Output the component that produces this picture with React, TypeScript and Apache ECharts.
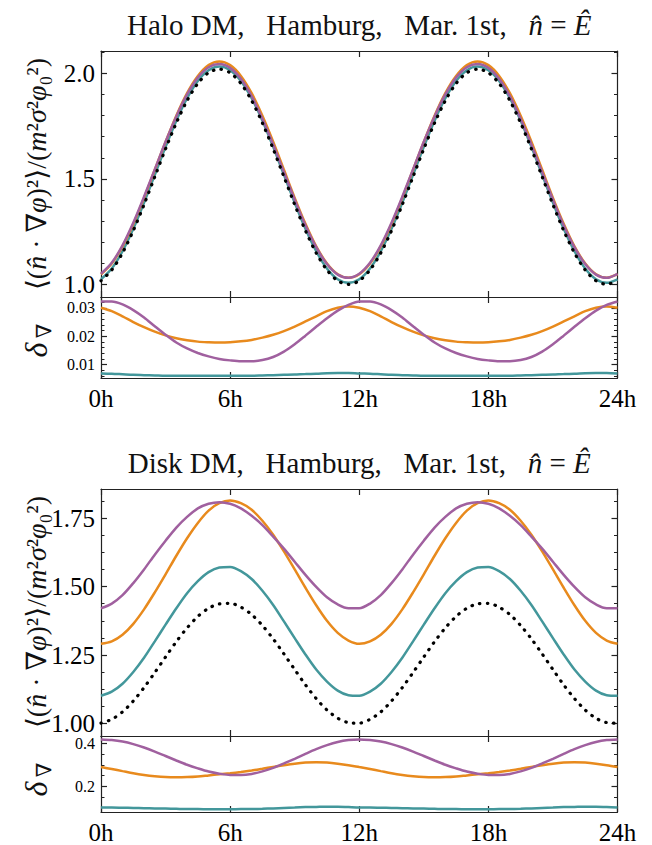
import React, { useEffect, useRef } from 'react';
import * as echarts from 'echarts';

// ---------- data ----------
const hours = [0, 0.5, 1, 1.5, 2, 2.5, 3, 3.5, 4, 4.5, 5, 5.5, 6, 6.5, 7, 7.5, 8, 8.5, 9, 9.5, 10, 10.5, 11, 11.5, 12,
  12.5, 13, 13.5, 14, 14.5, 15, 15.5, 16, 16.5, 17, 17.5, 18, 18.5, 19, 19.5, 20, 20.5, 21, 21.5, 22, 22.5, 23, 23.5, 24];

const haloBlack = [1.017, 1.068, 1.149, 1.255, 1.378, 1.510, 1.642, 1.765, 1.871, 1.952, 2.003, 2.020, 2.003, 1.952, 1.871, 1.765, 1.642, 1.510, 1.378, 1.255, 1.149, 1.068, 1.017, 1.000, 1.017,
  1.068, 1.149, 1.255, 1.378, 1.510, 1.642, 1.765, 1.871, 1.952, 2.003, 2.020, 2.003, 1.952, 1.871, 1.765, 1.642, 1.510, 1.378, 1.255, 1.149, 1.068, 1.017, 1.000, 1.017];
const haloTeal = [1.024, 1.075, 1.157, 1.263, 1.387, 1.519, 1.652, 1.776, 1.882, 1.964, 2.015, 2.032, 2.015, 1.964, 1.882, 1.776, 1.652, 1.519, 1.387, 1.263, 1.157, 1.075, 1.024, 1.007, 1.024,
  1.075, 1.157, 1.263, 1.387, 1.519, 1.652, 1.776, 1.882, 1.964, 2.015, 2.032, 2.015, 1.964, 1.882, 1.776, 1.652, 1.519, 1.387, 1.263, 1.157, 1.075, 1.024, 1.007, 1.024];
const haloOrange = [1.048, 1.099, 1.180, 1.286, 1.410, 1.543, 1.675, 1.799, 1.906, 1.987, 2.039, 2.056, 2.039, 1.988, 1.906, 1.799, 1.676, 1.543, 1.410, 1.287, 1.180, 1.099, 1.048, 1.031, 1.048,
  1.099, 1.180, 1.286, 1.410, 1.543, 1.675, 1.799, 1.906, 1.987, 2.039, 2.056, 2.039, 1.988, 1.906, 1.799, 1.676, 1.543, 1.410, 1.287, 1.180, 1.099, 1.048, 1.031, 1.048];
const haloPurple = [1.050, 1.102, 1.185, 1.292, 1.415, 1.545, 1.676, 1.796, 1.900, 1.980, 2.029, 2.044, 2.026, 1.974, 1.892, 1.785, 1.663, 1.532, 1.402, 1.280, 1.176, 1.096, 1.046, 1.031, 1.050,
  1.102, 1.185, 1.292, 1.415, 1.545, 1.676, 1.796, 1.900, 1.980, 2.029, 2.044, 2.026, 1.974, 1.892, 1.785, 1.663, 1.532, 1.402, 1.280, 1.176, 1.096, 1.046, 1.031, 1.050];

const haloDeltaTeal = [0.0069, 0.0068, 0.0066, 0.0064, 0.0063, 0.0062, 0.0061, 0.0061, 0.0061, 0.0061, 0.0061, 0.0061, 0.0061, 0.0061, 0.0061, 0.0062, 0.0063, 0.0064, 0.0065, 0.0067, 0.0068, 0.0070, 0.0071, 0.0071, 0.0069,
  0.0068, 0.0066, 0.0064, 0.0063, 0.0062, 0.0061, 0.0061, 0.0061, 0.0061, 0.0061, 0.0061, 0.0061, 0.0061, 0.0061, 0.0062, 0.0063, 0.0064, 0.0065, 0.0067, 0.0068, 0.0070, 0.0071, 0.0071, 0.0069];
const haloDeltaOrange = [0.0300, 0.0288, 0.0270, 0.0250, 0.0232, 0.0216, 0.0203, 0.0193, 0.0186, 0.0181, 0.0179, 0.0178, 0.0179, 0.0182, 0.0187, 0.0195, 0.0205, 0.0218, 0.0234, 0.0252, 0.0270, 0.0288, 0.0300, 0.0305, 0.0300,
  0.0288, 0.0270, 0.0250, 0.0232, 0.0216, 0.0203, 0.0193, 0.0186, 0.0181, 0.0179, 0.0178, 0.0179, 0.0182, 0.0187, 0.0195, 0.0205, 0.0218, 0.0234, 0.0252, 0.0270, 0.0288, 0.0300, 0.0305, 0.0300];
const haloDeltaPurple = [0.0322, 0.0322, 0.0312, 0.0292, 0.0266, 0.0235, 0.0205, 0.0178, 0.0157, 0.0141, 0.0129, 0.0120, 0.0115, 0.0112, 0.0112, 0.0116, 0.0127, 0.0146, 0.0172, 0.0202, 0.0233, 0.0263, 0.0290, 0.0310, 0.0322,
  0.0322, 0.0312, 0.0292, 0.0266, 0.0235, 0.0205, 0.0178, 0.0157, 0.0141, 0.0129, 0.0120, 0.0115, 0.0112, 0.0112, 0.0116, 0.0127, 0.0146, 0.0172, 0.0202, 0.0233, 0.0263, 0.0290, 0.0310, 0.0322];

const diskBlack = [1.001, 1.015, 1.042, 1.082, 1.131, 1.186, 1.243, 1.299, 1.349, 1.391, 1.421, 1.437, 1.439, 1.425, 1.398, 1.358, 1.309, 1.254, 1.197, 1.141, 1.091, 1.049, 1.019, 1.003, 1.001,
  1.015, 1.042, 1.082, 1.131, 1.186, 1.243, 1.299, 1.349, 1.391, 1.421, 1.437, 1.439, 1.425, 1.398, 1.358, 1.309, 1.254, 1.197, 1.141, 1.091, 1.049, 1.019, 1.003, 1.001];
const diskTeal = [1.101, 1.116, 1.145, 1.188, 1.240, 1.300, 1.361, 1.421, 1.476, 1.520, 1.553, 1.570, 1.572, 1.557, 1.528, 1.485, 1.433, 1.373, 1.312, 1.252, 1.197, 1.153, 1.120, 1.103, 1.101,
  1.116, 1.145, 1.188, 1.240, 1.300, 1.361, 1.421, 1.476, 1.520, 1.553, 1.570, 1.572, 1.557, 1.528, 1.485, 1.433, 1.373, 1.312, 1.252, 1.197, 1.153, 1.120, 1.103, 1.101];
const diskOrange = [1.291, 1.300, 1.324, 1.364, 1.417, 1.479, 1.545, 1.613, 1.677, 1.733, 1.778, 1.805, 1.815, 1.805, 1.781, 1.741, 1.690, 1.629, 1.563, 1.496, 1.432, 1.375, 1.331, 1.303, 1.291,
  1.300, 1.324, 1.364, 1.417, 1.479, 1.545, 1.613, 1.677, 1.733, 1.778, 1.805, 1.815, 1.805, 1.781, 1.741, 1.690, 1.629, 1.563, 1.496, 1.432, 1.375, 1.331, 1.303, 1.291];
const diskPurple = [1.421, 1.438, 1.469, 1.513, 1.563, 1.617, 1.668, 1.716, 1.755, 1.786, 1.803, 1.809, 1.803, 1.786, 1.759, 1.725, 1.683, 1.639, 1.591, 1.543, 1.499, 1.461, 1.435, 1.421, 1.421,
  1.438, 1.469, 1.513, 1.563, 1.617, 1.668, 1.716, 1.755, 1.786, 1.803, 1.809, 1.803, 1.786, 1.759, 1.725, 1.683, 1.639, 1.591, 1.543, 1.499, 1.461, 1.435, 1.421, 1.421];

const diskDeltaTeal = [0.100, 0.100, 0.099, 0.098, 0.097, 0.096, 0.095, 0.094, 0.093, 0.093, 0.092, 0.092, 0.092, 0.093, 0.093, 0.094, 0.096, 0.098, 0.100, 0.102, 0.103, 0.104, 0.104, 0.102, 0.100,
  0.100, 0.099, 0.098, 0.097, 0.096, 0.095, 0.094, 0.093, 0.093, 0.092, 0.092, 0.092, 0.093, 0.093, 0.094, 0.096, 0.098, 0.100, 0.102, 0.103, 0.104, 0.104, 0.102, 0.100];
const diskDeltaOrange = [0.290, 0.281, 0.271, 0.261, 0.253, 0.247, 0.243, 0.242, 0.243, 0.246, 0.251, 0.256, 0.261, 0.267, 0.274, 0.282, 0.291, 0.299, 0.306, 0.311, 0.313, 0.311, 0.306, 0.299, 0.290,
  0.281, 0.271, 0.261, 0.253, 0.247, 0.243, 0.242, 0.243, 0.246, 0.251, 0.256, 0.261, 0.267, 0.274, 0.282, 0.291, 0.299, 0.306, 0.311, 0.313, 0.311, 0.306, 0.299, 0.290];
const diskDeltaPurple = [0.420, 0.417, 0.410, 0.398, 0.382, 0.363, 0.342, 0.321, 0.301, 0.284, 0.269, 0.259, 0.253, 0.253, 0.258, 0.270, 0.286, 0.307, 0.329, 0.352, 0.374, 0.393, 0.408, 0.417, 0.420,
  0.417, 0.410, 0.398, 0.382, 0.363, 0.342, 0.321, 0.301, 0.284, 0.269, 0.259, 0.253, 0.253, 0.258, 0.270, 0.286, 0.307, 0.329, 0.352, 0.374, 0.393, 0.408, 0.417, 0.420];

// tick values
const haloMainMajor = [1.0, 1.5, 2.0];
const haloMainMinor = [1.1, 1.2, 1.3, 1.4, 1.6, 1.7, 1.8, 1.9, 2.1];
const haloResMajor = [0.01, 0.02, 0.03];
const haloResMinor = [0.006, 0.008, 0.012, 0.014, 0.016, 0.018, 0.022, 0.024, 0.026, 0.028, 0.032];
const diskMainMajor = [1.0, 1.25, 1.5, 1.75];
const diskMainMinor = [1.0625, 1.125, 1.1875, 1.3125, 1.375, 1.4375, 1.5625, 1.625, 1.6875, 1.8125];
const diskResMajor = [0.2, 0.4];
const diskResMinor = [0.1, 0.15, 0.25, 0.3, 0.35];

// ---------- style ----------
const SERIF = "'Liberation Serif', 'DejaVu Serif', serif";
const C_TEAL = '#43979B';
const C_ORANGE = '#E88A1D';
const C_PURPLE = '#A0609F';
const FRAME = '#222';
const LEFT = 101;
const WIDTH = 516.5;

const panels = [
  { top: 51, height: 246, min: 0.94, max: 2.106, major: haloMainMajor, minor: haloMainMinor, dec: 1, fs: 25, pad: [0, 0, 0, 0], xLabels: false },
  { top: 297, height: 81, min: 0.0053, max: 0.0338, major: haloResMajor, minor: haloResMinor, dec: 2, fs: 16, pad: [4, 0, 0, 0], xLabels: true },
  { top: 489, height: 247, min: 0.954, max: 1.857, major: diskMainMajor, minor: diskMainMinor, dec: 2, fs: 25, pad: [0, 0, 3, 0], xLabels: false },
  { top: 736, height: 82, min: 0.079, max: 0.436, major: diskResMajor, minor: diskResMinor, dec: 1, fs: 16, pad: [5, 0, 0, 0], xLabels: true },
];

function line(name: string, g: number, values: number[], color: string, dotted = false) {
  return {
    name,
    type: 'line',
    xAxisIndex: 2 * g,
    yAxisIndex: 4 * g,
    data: hours.map((h, i) => [h, values[i]]),
    showSymbol: false,
    smooth: 0.3,
    clip: true,
    lineStyle: dotted
      ? { color: '#000', width: 3.2, type: [0.5, 7.3], cap: 'round' }
      : { color, width: 2.5 },
    z: dotted ? 5 : 3,
  };
}

export default function App() {
  const ref = useRef<HTMLDivElement>(null);
  useEffect(() => {
    document.body.style.margin = '0';
    const chart = echarts.init(ref.current as HTMLDivElement, null, { renderer: 'svg' });

    const grid = panels.map((p) => ({ left: LEFT, top: p.top, width: WIDTH, height: p.height, containLabel: false }));
    const xAxis: any[] = [];
    const yAxis: any[] = [];
    panels.forEach((p, g) => {
      ['bottom', 'top'].forEach((pos) => {
        xAxis.push({
          type: 'value', gridIndex: g, position: pos, min: 0, max: 24, interval: 6,
          axisLine: { show: true, onZero: false, lineStyle: { color: FRAME, width: 1.2 } },
          axisTick: { show: true, inside: true, length: 6, lineStyle: { color: FRAME, width: 1.2 } },
          axisLabel: {
            show: pos === 'bottom' && p.xLabels, margin: 8, color: '#000', fontFamily: SERIF, fontSize: 25,
            formatter: (v: number) => `${v}h`, showMinLabel: true, showMaxLabel: true,
          },
          splitLine: { show: false },
        });
      });
      ['left', 'right'].forEach((pos) => {
        yAxis.push({
          type: 'value', gridIndex: g, position: pos, min: p.min, max: p.max,
          axisLine: { show: true, lineStyle: { color: FRAME, width: 1.2 } },
          axisTick: { show: true, inside: true, length: 6, customValues: p.major, lineStyle: { color: FRAME, width: 1.2 } },
          axisLabel: {
            show: pos === 'left', customValues: p.major, margin: 6, color: '#000', fontFamily: SERIF, fontSize: p.fs,
            lineHeight: Math.round(p.fs * 0.8), padding: p.pad, formatter: (v: number) => v.toFixed(p.dec),
          },
          splitLine: { show: false },
        });
        yAxis.push({
          type: 'value', gridIndex: g, position: pos, min: p.min, max: p.max,
          axisLine: { show: false },
          axisTick: { show: true, inside: true, length: 3.5, customValues: p.minor, lineStyle: { color: FRAME, width: 1 } },
          axisLabel: { show: false },
          splitLine: { show: false },
        });
      });
    });

    const series = [
      line('halo teal', 0, haloTeal, C_TEAL),
      line('halo orange', 0, haloOrange, C_ORANGE),
      line('halo purple', 0, haloPurple, C_PURPLE),
      line('halo none', 0, haloBlack, '#000', true),
      line('halo d teal', 1, haloDeltaTeal, C_TEAL),
      line('halo d orange', 1, haloDeltaOrange, C_ORANGE),
      line('halo d purple', 1, haloDeltaPurple, C_PURPLE),
      line('disk teal', 2, diskTeal, C_TEAL),
      line('disk orange', 2, diskOrange, C_ORANGE),
      line('disk purple', 2, diskPurple, C_PURPLE),
      line('disk none', 2, diskBlack, '#000', true),
      line('disk d teal', 3, diskDeltaTeal, C_TEAL),
      line('disk d orange', 3, diskDeltaOrange, C_ORANGE),
      line('disk d purple', 3, diskDeltaPurple, C_PURPLE),
    ];

    const titleRich = {
      r: { fontFamily: SERIF, fontSize: 29, fill: '#111' },
      i: { fontFamily: SERIF, fontSize: 29, fontStyle: 'italic', fill: '#111' },
    } as any;
    const titleText = (y: number, kind: string) => ({
      type: 'text', x: LEFT + WIDTH / 2, y,
      style: {
        text: `{r|${kind} DM,   Hamburg,   Mar. 1st,   }{i|n\u0302}{r| = }{i|\u00CA}`,
        rich: titleRich, align: 'center', verticalAlign: 'middle',
      },
    });
    const ylabRich = {
      r: { fontFamily: SERIF, fontSize: 28, fill: '#111' },
      i: { fontFamily: SERIF, fontSize: 28, fontStyle: 'italic', fill: '#111' },
    } as any;
    const yLabel = (cy: number) => ({
      type: 'text', x: 36, y: cy, rotation: Math.PI / 2,
      style: {
        text: '{r|\u27E8(}{i|n\u0302}{r| \u00B7 \u2207}{i|\u03C6}{r|)\u00B2\u27E9/(}{i|m}{r|\u00B2}{i|\u03C3}{r|\u00B2}{i|\u03C6}{r|\u2080\u00B2)}',
        rich: ylabRich, align: 'center', verticalAlign: 'middle',
      },
    });
    const deltaLabel = (cy: number) => ({
      type: 'group', x: 36, y: cy, rotation: Math.PI / 2,
      children: [
        { type: 'text', x: -8, y: 0, style: { text: '\u03B4', fontFamily: SERIF, fontSize: 32, fontStyle: 'italic', fill: '#111', align: 'center', verticalAlign: 'middle' } },
        { type: 'text', x: 11, y: 8, style: { text: '\u2207', fontFamily: SERIF, fontSize: 21, fill: '#111', align: 'center', verticalAlign: 'middle' } },
      ],
    });

    chart.setOption({
      animation: false,
      backgroundColor: '#fff',
      grid,
      xAxis,
      yAxis,
      series,
      graphic: [
        titleText(25, 'Halo'),
        titleText(463, 'Disk'),
        yLabel(174),
        yLabel(612),
        deltaLabel(342),
        deltaLabel(781),
      ],
    } as any);
    return () => chart.dispose();
  }, []);
  return <div ref={ref} style={{ width: 652, height: 845 }} />;
}
